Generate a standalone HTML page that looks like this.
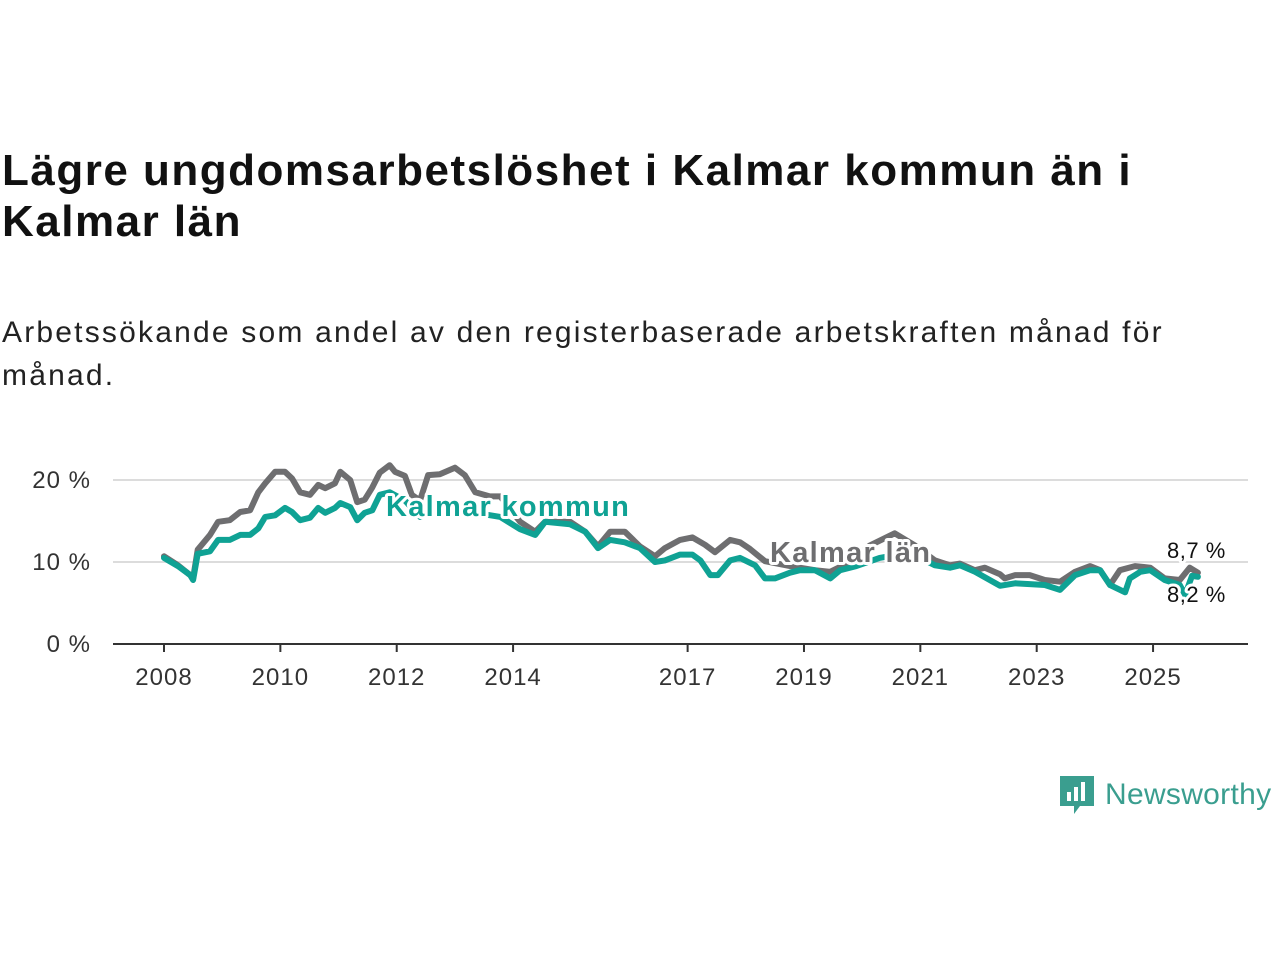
<!DOCTYPE html>
<html><head><meta charset="utf-8">
<style>
body{margin:0;background:#fff;width:1280px;height:960px;overflow:hidden;font-family:"Liberation Sans",sans-serif;}
#title{position:absolute;left:2px;top:145px;font-weight:bold;font-size:44px;line-height:51px;letter-spacing:1.5px;color:#111;white-space:nowrap;}
#sub{position:absolute;left:2px;top:311px;font-size:30px;line-height:43px;letter-spacing:2.2px;color:#222;white-space:nowrap;}
svg{position:absolute;left:0;top:0;}
</style></head><body>
<div id="title">Lägre ungdomsarbetslöshet i Kalmar kommun än i<br>Kalmar län</div>
<div id="sub">Arbetssökande som andel av den registerbaserade arbetskraften månad för<br>månad.</div>
<svg id="chart" width="1280" height="960"></svg>
<script>
const lanYears=[2008.00,2008.24,2008.45,2008.50,2008.58,2008.79,2008.93,2009.13,2009.31,2009.48,2009.62,2009.74,2009.91,2010.08,2010.20,2010.34,2010.51,2010.65,2010.77,2010.94,2011.03,2011.20,2011.32,2011.45,2011.58,2011.71,2011.88,2011.97,2012.14,2012.26,2012.40,2012.54,2012.74,2013.00,2013.17,2013.35,2013.60,2013.78,2014.12,2014.38,2014.55,2014.98,2015.24,2015.46,2015.67,2015.92,2016.18,2016.44,2016.61,2016.87,2017.08,2017.30,2017.47,2017.73,2017.90,2018.07,2018.33,2018.76,2019.19,2019.45,2019.79,2020.13,2020.56,2020.91,2021.25,2021.51,2021.68,2021.94,2022.11,2022.37,2022.45,2022.63,2022.88,2023.14,2023.40,2023.66,2023.92,2024.09,2024.26,2024.43,2024.69,2024.95,2025.20,2025.46,2025.63,2025.77];
const lanValues=[10.7,9.6,8.4,8.0,11.5,13.3,14.9,15.1,16.1,16.3,18.5,19.6,21.0,21.0,20.2,18.5,18.2,19.4,19.0,19.6,21.0,20.0,17.3,17.6,19.1,20.9,21.8,21.0,20.5,18.2,17.5,20.6,20.7,21.5,20.6,18.5,18.0,18.0,14.9,13.7,14.9,14.9,13.7,11.9,13.7,13.7,11.9,10.7,11.7,12.7,13.0,12.1,11.2,12.7,12.4,11.6,10.1,9.5,9.0,8.8,10.0,12.0,13.5,12.0,10.2,9.6,9.8,9.0,9.3,8.5,8.0,8.4,8.4,7.8,7.6,8.8,9.5,9.0,7.2,9.0,9.5,9.3,8.0,7.8,9.3,8.7];
const komYears=[2008.00,2008.24,2008.45,2008.50,2008.58,2008.79,2008.93,2009.13,2009.31,2009.48,2009.62,2009.74,2009.91,2010.08,2010.20,2010.34,2010.51,2010.65,2010.77,2010.94,2011.03,2011.20,2011.32,2011.45,2011.58,2011.71,2011.88,2012.14,2012.40,2012.74,2013.00,2013.35,2013.78,2014.12,2014.38,2014.55,2014.98,2015.24,2015.46,2015.67,2015.92,2016.18,2016.44,2016.61,2016.87,2017.08,2017.22,2017.39,2017.52,2017.73,2017.90,2018.16,2018.33,2018.50,2018.76,2018.93,2019.19,2019.45,2019.62,2019.90,2020.30,2020.70,2021.00,2021.25,2021.51,2021.68,2021.94,2022.37,2022.63,2022.88,2023.14,2023.40,2023.66,2023.92,2024.09,2024.26,2024.52,2024.60,2024.78,2024.95,2025.20,2025.46,2025.55,2025.67,2025.77];
const komValues=[10.5,9.5,8.4,7.8,11.0,11.3,12.7,12.7,13.3,13.3,14.1,15.5,15.7,16.6,16.1,15.1,15.4,16.6,16.0,16.6,17.2,16.7,15.1,16.0,16.3,18.2,18.5,17.5,15.5,16.5,16.5,16.0,15.5,14.0,13.3,14.9,14.6,13.7,11.7,12.7,12.4,11.7,10.0,10.2,10.9,10.9,10.2,8.4,8.4,10.2,10.5,9.6,8.0,8.0,8.7,9.0,9.0,8.0,9.0,9.5,10.5,11.0,10.5,9.6,9.3,9.6,8.8,7.1,7.4,7.3,7.2,6.6,8.4,9.0,9.0,7.2,6.3,8.0,8.8,9.0,7.8,7.2,6.0,8.3,8.2];
const xTicks=[2008,2010,2012,2014,2017,2019,2021,2023,2025];
const yTicks=[0,10,20];
const yTickLabels=["0 %","10 %","20 %"];
const endLabels=["8,7 %","8,2 %"];

const NS="http://www.w3.org/2000/svg";
const svg=document.getElementById('chart');
const xs=y=>164+(y-2008)*58.18;
const ys=v=>644-v*8.2;
function mk(t,a,txt){const e=document.createElementNS(NS,t);for(const k in a)e.setAttribute(k,a[k]);if(txt!==undefined)e.textContent=txt;svg.appendChild(e);return e;}
yTicks.forEach((v,i)=>{
  if(v>0){const g=mk('line',{x1:113,x2:1248,y1:ys(v),y2:ys(v),stroke:'#dcdcdc','stroke-width':2});
  
  }
  const t=mk('text',{x:91,y:ys(v)+8,'text-anchor':'end','font-size':24,'letter-spacing':1,fill:'#333','font-family':'Liberation Sans, sans-serif'},yTickLabels[i]);
  
  
});
const ax=mk('line',{x1:113,x2:1248,y1:644,y2:644,stroke:'#333','stroke-width':2});


xTicks.forEach(y=>{
  const tk=mk('line',{x1:xs(y),x2:xs(y),y1:644,y2:652,stroke:'#333','stroke-width':2});
  
  
  const t=mk('text',{x:xs(y),y:685,'text-anchor':'middle','font-size':24,'letter-spacing':1,fill:'#333','font-family':'Liberation Sans, sans-serif'},String(y));
  
  
});
function line(X,V,c,name){
  const d=X.map((y,i)=>(i?'L':'M')+xs(y).toFixed(1)+' '+ys(V[i]).toFixed(1)).join(' ');
  const p=mk('path',{d:d,fill:'none',stroke:c,'stroke-width':6,'stroke-linejoin':'round','stroke-linecap':'round'});
  
  
}
line(lanYears,lanValues,'#6e6e70','series-kalmar-lan');
line(komYears,komValues,'#0fa294','series-kalmar-kommun');
function lbl(x,y,txt,c,size,bold,ls,name){
  const t=mk('text',{x:x,y:y,'font-size':size,'font-weight':bold?'bold':'normal','letter-spacing':ls,fill:c,stroke:'#fff','stroke-width':6,'paint-order':'stroke','stroke-linejoin':'round','font-family':'Liberation Sans, sans-serif'},txt);
  
  
}
lbl(386,516,'Kalmar kommun','#0fa294',29,true,1.3,'label-kalmar-kommun');
lbl(770,562,'Kalmar län','#6e6e70',29,true,1.3,'label-kalmar-lan');
lbl(1167,558,endLabels[0],'#111',22,false,0.5,'end-value-lan');
lbl(1167,602,endLabels[1],'#111',22,false,0.5,'end-value-kommun');
</script>
<div style="position:absolute;left:1058px;top:772px;display:flex;align-items:center;">
<svg width="38" height="46" style="position:static"><path d="M2 4h34v30H22l-6 8v-8H2z" fill="#3a9e8f"/><rect x="9" y="20" width="4" height="9" fill="#fff"/><rect x="16" y="15" width="4" height="14" fill="#fff"/><rect x="23" y="10" width="4" height="19" fill="#fff"/></svg>
<span style="font-size:30px;color:#3a9e8f;margin-left:9px;letter-spacing:0.3px;">Newsworthy</span>
</div>
</body></html>
